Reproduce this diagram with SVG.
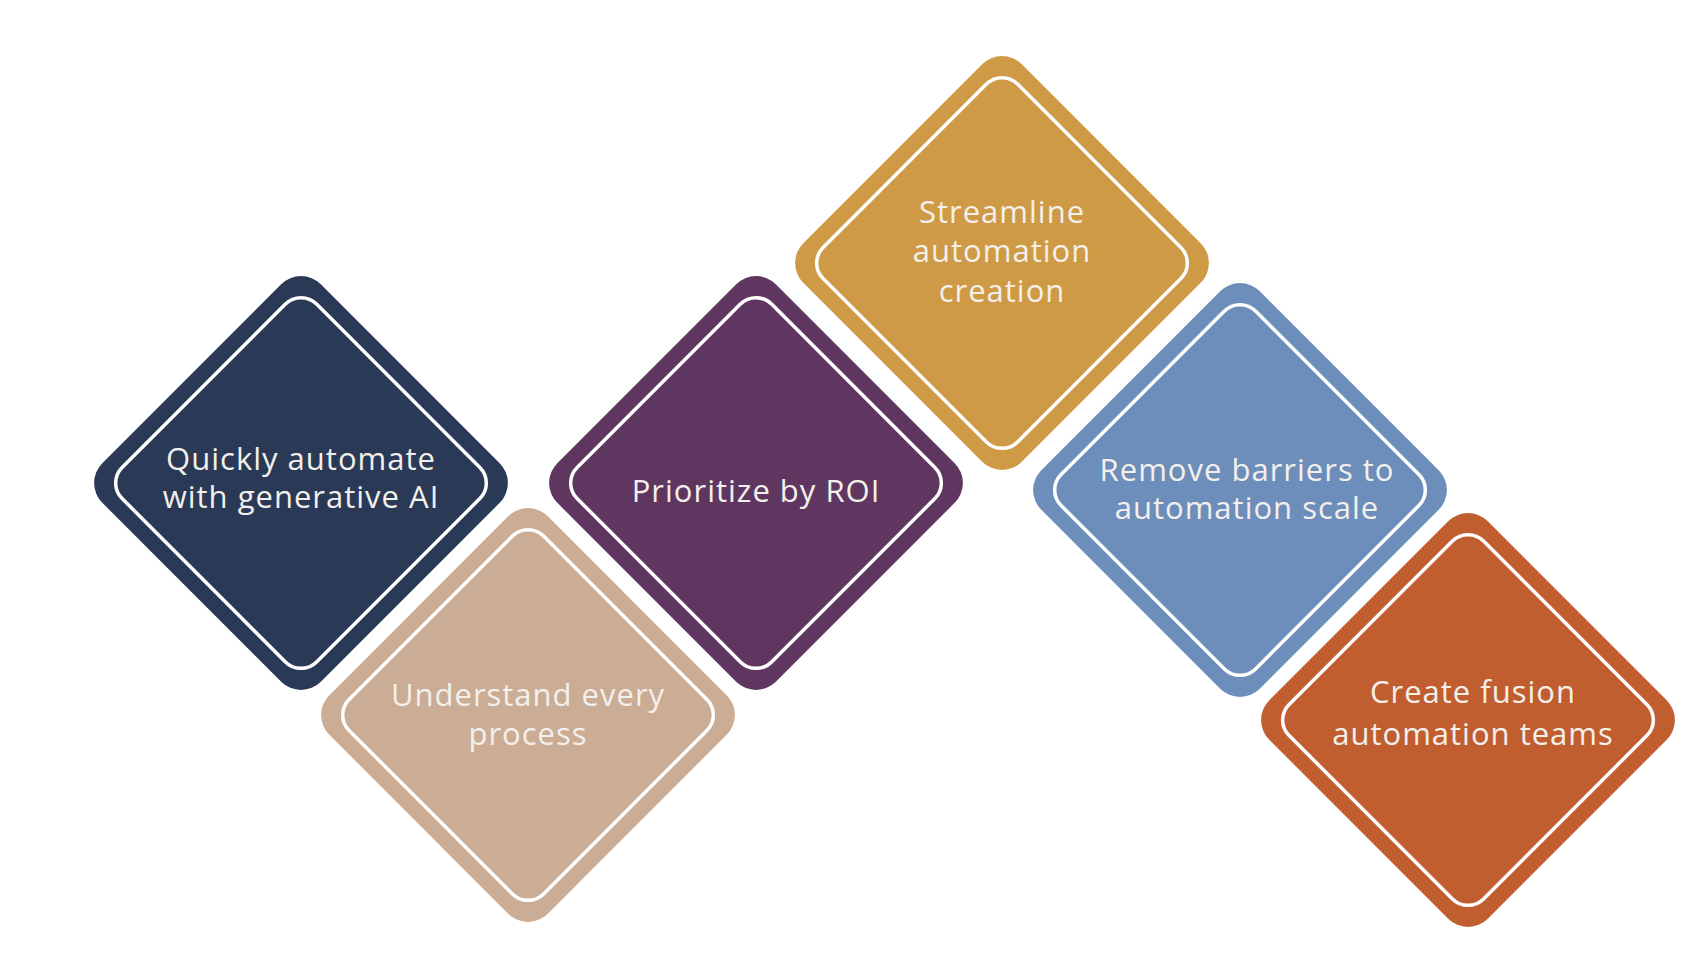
<svg xmlns="http://www.w3.org/2000/svg" width="1706" height="980" viewBox="0 0 1706 980">
<defs>
<style>
.outer{stroke:none}
.inner{fill:none;stroke:#ffffff;stroke-width:3.5}
.lbl{font-family:"Open Sans","Liberation Sans",sans-serif;font-size:31px;letter-spacing:1px;fill:#f3f0ec;text-anchor:middle}
</style>
</defs>
<rect width="1706" height="980" fill="#ffffff"/>
<g id="connectors"></g>
<g id="node-quickly" transform="translate(301,483)">
<rect class="outer" x="-154.5" y="-154.5" width="309" height="309" rx="28" transform="rotate(45)" fill="#293956"/>
<rect class="inner" x="-137.5" y="-137.5" width="275" height="275" rx="22" transform="rotate(45)"/>
<text class="lbl" x="0" y="-13">Quickly automate</text>
<text class="lbl" x="0" y="25">with generative AI</text>
</g>
<g id="node-understand" transform="translate(528,715)">
<rect class="outer" x="-154.5" y="-154.5" width="309" height="309" rx="28" transform="rotate(45)" fill="#cbac94"/>
<rect class="inner" x="-137.5" y="-137.5" width="275" height="275" rx="22" transform="rotate(45)"/>
<text class="lbl" x="0" y="-9">Understand every</text>
<text class="lbl" x="0" y="30">process</text>
</g>
<g id="node-prioritize" transform="translate(756,483)">
<rect class="outer" x="-154.5" y="-154.5" width="309" height="309" rx="28" transform="rotate(45)" fill="#5f3660"/>
<rect class="inner" x="-137.5" y="-137.5" width="275" height="275" rx="22" transform="rotate(45)"/>
<text class="lbl" x="0" y="19">Prioritize by ROI</text>
</g>
<g id="node-streamline" transform="translate(1002,263)">
<rect class="outer" x="-154.5" y="-154.5" width="309" height="309" rx="28" transform="rotate(45)" fill="#cf9a45"/>
<rect class="inner" x="-137.5" y="-137.5" width="275" height="275" rx="22" transform="rotate(45)"/>
<text class="lbl" x="0" y="-40">Streamline</text>
<text class="lbl" x="0" y="-1">automation</text>
<text class="lbl" x="0" y="39">creation</text>
</g>
<g id="node-remove" transform="translate(1240,490)">
<rect class="outer" x="-154.5" y="-154.5" width="309" height="309" rx="28" transform="rotate(45)" fill="#6d8eba"/>
<rect class="inner" x="-137.5" y="-137.5" width="275" height="275" rx="22" transform="rotate(45)"/>
<text class="lbl" x="7" y="-9">Remove barriers to</text>
<text class="lbl" x="7" y="29">automation scale</text>
</g>
<g id="node-create" transform="translate(1468,720)">
<rect class="outer" x="-154.5" y="-154.5" width="309" height="309" rx="28" transform="rotate(45)" fill="#c15e30"/>
<rect class="inner" x="-137.5" y="-137.5" width="275" height="275" rx="22" transform="rotate(45)"/>
<text class="lbl" x="5" y="-17">Create fusion</text>
<text class="lbl" x="5" y="25">automation teams</text>
</g>
</svg>
